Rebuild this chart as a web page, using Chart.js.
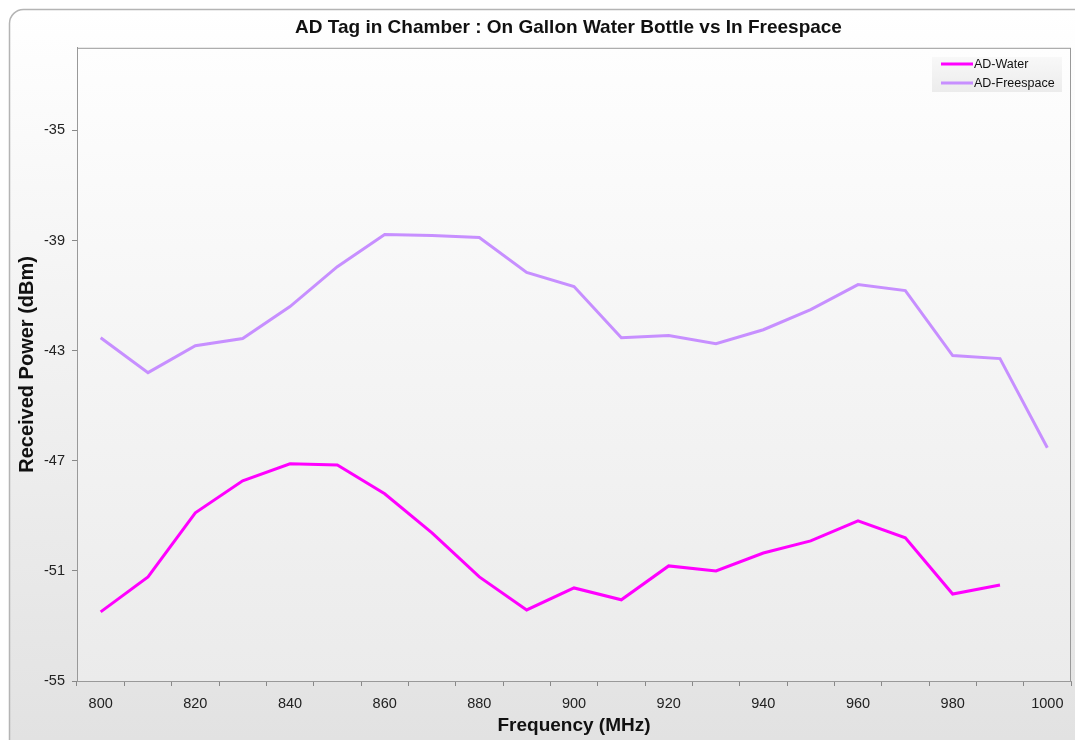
<!DOCTYPE html>
<html>
<head>
<meta charset="utf-8">
<title>AD Tag in Chamber</title>
<script src="https://cdn.jsdelivr.net/npm/chart.js@4.4.1/dist/chart.umd.min.js"></script>
<style>
  html, body { margin: 0; padding: 0; background: #fff; overflow: hidden; }
  #wrap { width: 1075px; height: 740px; }
</style>
</head>
<body>
<div id="wrap"><canvas id="chart" width="1075" height="740"></canvas></div>
<script>
// valores
const FREQS = [800, 810, 820, 830, 840, 850, 860, 870, 880, 890, 900,
               910, 920, 930, 940, 950, 960, 970, 980, 990, 1000];
const AD_WATER = [-52.49, -51.22, -48.89, -47.73, -47.11, -47.15, -48.20, -49.62, -51.22, -52.42, -51.62,
                  -52.05, -50.82, -51.00, -50.35, -49.91, -49.18, -49.80, -51.84, -51.51, null];
const AD_FREESPACE = [-42.53, -43.80, -42.82, -42.56, -41.40, -39.95, -38.78, -38.82, -38.89, -40.16, -40.67,
                      -42.53, -42.45, -42.75, -42.24, -41.51, -40.60, -40.82, -43.18, -43.29, -46.53];
const Y_TICKS = [-55, -51, -47, -43, -39, -35];

const FONT = '"Liberation Sans", Arial, sans-serif';

// moldura, fundo em degradê e legenda interna
const frame = {
  id: 'frame',
  afterLayout(chart) {
    // o título original fica centrado num quadro mais largo que a imagem
    const t = chart.titleBlock;
    if (t) { t.left = 66; t.right = 1071; }
  },
  beforeDraw(chart) {
    const { ctx, chartArea: a } = chart;
    ctx.save();
    const g = ctx.createLinearGradient(0, 10, 0, 740);
    g.addColorStop(0, '#ffffff');
    g.addColorStop(1, '#e2e2e2');
    ctx.beginPath();
    ctx.roundRect(9.5, 9.5, 1090, 760, 14);
    ctx.fillStyle = g;
    ctx.fill();
    ctx.strokeStyle = '#b4b4b4';
    ctx.lineWidth = 1.5;
    ctx.stroke();

    const g2 = ctx.createLinearGradient(0, a.top, 0, a.bottom);
    g2.addColorStop(0, '#fefefe');
    g2.addColorStop(1, '#ebebeb');
    ctx.fillStyle = g2;
    ctx.fillRect(a.left, a.top, a.right - a.left, a.bottom - a.top);
    ctx.restore();
  },
  afterDraw(chart) {
    const { ctx, chartArea: a } = chart;
    ctx.save();
    ctx.strokeStyle = '#999';
    ctx.lineWidth = 1;
    ctx.strokeRect(a.left + 0.5, a.top + 0.5, a.right - a.left - 1, a.bottom - a.top);

    const bx = 932, by = 57, bw = 130, bh = 35;
    const g = ctx.createLinearGradient(0, by, 0, by + bh);
    g.addColorStop(0, '#f8f8f8');
    g.addColorStop(1, '#ececec');
    ctx.fillStyle = g;
    ctx.fillRect(bx, by, bw, bh);

    ctx.font = '12.5px ' + FONT;
    ctx.textBaseline = 'middle';
    ctx.fillStyle = '#111';
    chart.data.datasets.forEach((ds, i) => {
      const y = 64 + i * 19;
      ctx.strokeStyle = ds.borderColor;
      ctx.lineWidth = 3;
      ctx.beginPath();
      ctx.moveTo(941, y);
      ctx.lineTo(973, y);
      ctx.stroke();
      ctx.fillText(ds.label, 974, y + 1);
    });
    ctx.restore();
  }
};

new Chart(document.getElementById('chart'), {
  type: 'line',
  data: {
    labels: FREQS,
    datasets: [
      {
        label: 'AD-Water',
        data: AD_WATER,
        borderColor: '#ff00ff',
        borderWidth: 3,
        pointRadius: 0,
        tension: 0,
      },
      {
        label: 'AD-Freespace',
        data: AD_FREESPACE,
        borderColor: '#c78fff',
        borderWidth: 3,
        pointRadius: 0,
        tension: 0,
      },
    ],
  },
  options: {
    responsive: false,
    animation: false,
    layout: { padding: { left: 10, right: 4, top: 0, bottom: 0 } },
    plugins: {
      legend: { display: false },
      tooltip: { enabled: false },
      title: {
        display: true,
        text: 'AD Tag in Chamber : On Gallon Water Bottle vs In Freespace',
        color: '#111',
        font: { family: FONT, size: 19, weight: 'bold' },
        padding: { top: 16, bottom: 9 },
      },
    },
    scales: {
      x: {
        type: 'category',
        offset: true,
        afterFit: (s) => { s.height = 59; },
        grid: { offset: true, drawOnChartArea: false, tickLength: 5, color: '#888' },
        border: { display: true, color: '#999' },
        ticks: {
          autoSkip: false,
          maxRotation: 0,
          padding: 9,
          color: '#222',
          font: { family: FONT, size: 14.5 },
          callback: (v, i) => (i % 2 === 0 ? FREQS[i] : ''),
        },
        title: {
          display: true,
          text: 'Frequency (MHz)',
          color: '#111',
          font: { family: FONT, size: 19, weight: 'bold' },
          padding: { top: 2, bottom: 3 },
        },
      },
      y: {
        min: -55,
        max: -32,
        afterFit: (s) => { s.width = 67; },
        afterBuildTicks: (s) => { s.ticks = Y_TICKS.map(v => ({ value: v })); },
        grid: { drawOnChartArea: false, tickLength: 5, color: '#888' },
        border: { display: true, color: '#999' },
        ticks: {
          padding: 7,
          color: '#222',
          font: { family: FONT, size: 14.5 },
        },
        title: {
          display: true,
          text: 'Received Power (dBm)',
          color: '#111',
          font: { family: FONT, size: 20, weight: 'bold' },
          padding: { top: 5, bottom: 4 },
        },
      },
    },
  },
  plugins: [frame],
});
</script>
</body>
</html>
